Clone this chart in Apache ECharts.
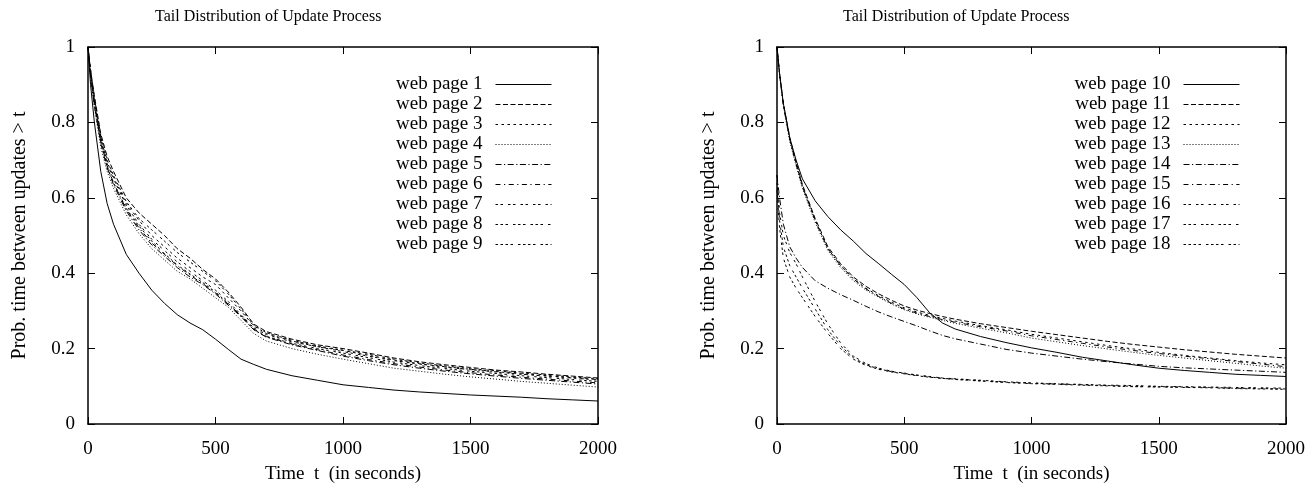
<!DOCTYPE html>
<html>
<head>
<meta charset="utf-8">
<script src="https://cdn.jsdelivr.net/npm/echarts@6/dist/echarts.min.js"></script>
<style>
html,body{margin:0;padding:0;background:#fff;}
#chart{width:1307px;height:483px;}
</style>
</head>
<body>
<div id="chart"></div>
<script>
// ---------- data ----------
const chartTitle = 'Tail Distribution of Update Process';
const xAxisName = 'Time  t  (in seconds)';
const yAxisName = 'Prob. time between updates > t';
const xTicks = [0, 500, 1000, 1500, 2000];
const yTicks = [0, 0.2, 0.4, 0.6, 0.8, 1];

const times = [0, 10, 25, 50, 75, 100, 150, 200, 250, 300, 350, 400, 450, 500, 550, 600, 650, 700, 800, 900, 1000, 1100, 1200, 1300, 1400, 1500, 1600, 1700, 1800, 1900, 2000];

// left panel
const page1 = [1, .90, .80, .67, .585, .53, .45, .40, .355, .32, .29, .268, .25, .225, .198, .172, .158, .145, .128, .116, .104, .097, .090, .085, .081, .077, .074, .071, .067, .064, .061];
const page2 = [1, .94, .87, .77, .71, .67, .60, .56, .53, .50, .465, .44, .41, .385, .35, .31, .265, .245, .225, .21, .20, .188, .175, .165, .157, .15, .143, .138, .132, .127, .122];
const page3 = [1, .93, .86, .76, .695, .655, .585, .54, .50, .47, .44, .415, .39, .37, .335, .30, .26, .24, .22, .205, .195, .182, .17, .16, .152, .145, .139, .133, .128, .123, .118];
const page4 = [1, .92, .84, .735, .67, .625, .555, .505, .465, .435, .405, .385, .36, .335, .31, .275, .24, .22, .20, .185, .172, .16, .148, .14, .132, .125, .119, .113, .108, .103, .098];
const page5 = [1, .925, .845, .745, .68, .635, .565, .515, .475, .445, .415, .39, .37, .345, .315, .285, .25, .23, .21, .195, .18, .168, .157, .148, .14, .133, .127, .121, .116, .111, .106];
const page6 = [1, .93, .85, .75, .685, .64, .57, .52, .48, .45, .42, .395, .372, .348, .318, .288, .252, .232, .212, .197, .183, .171, .16, .151, .143, .136, .13, .124, .119, .114, .109];
const page7 = [1, .935, .86, .76, .69, .65, .58, .53, .49, .46, .43, .405, .38, .355, .325, .29, .255, .237, .218, .205, .192, .18, .168, .159, .151, .144, .138, .132, .127, .122, .117];
const page8 = [1, .94, .865, .765, .70, .66, .59, .545, .515, .485, .455, .43, .405, .38, .345, .305, .262, .242, .222, .207, .196, .185, .172, .162, .154, .147, .141, .135, .13, .125, .12];
const page9 = [1, .925, .85, .75, .68, .64, .572, .525, .485, .452, .422, .398, .375, .35, .32, .287, .25, .232, .214, .20, .188, .176, .164, .155, .147, .14, .134, .128, .123, .118, .113];

// right panel
const page10 = [1, .93, .85, .76, .70, .65, .592, .55, .515, .485, .452, .425, .397, .37, .335, .295, .268, .252, .232, .216, .202, .19, .177, .167, .157, .148, .142, .137, .132, .129, .126];
const page11 = [1, .93, .85, .76, .695, .635, .545, .47, .425, .39, .365, .345, .328, .313, .302, .293, .285, .278, .266, .256, .246, .237, .228, .219, .211, .204, .197, .191, .185, .18, .175];
const page12 = [1, .93, .85, .755, .69, .63, .54, .465, .42, .385, .36, .34, .323, .308, .297, .288, .28, .273, .261, .25, .238, .228, .218, .208, .199, .19, .182, .175, .168, .162, .157];
const page13 = [1, .925, .845, .75, .685, .625, .535, .46, .415, .38, .355, .336, .318, .303, .292, .283, .275, .267, .254, .242, .228, .218, .208, .199, .19, .182, .175, .168, .161, .154, .148];
const page14 = [.66, .60, .53, .47, .44, .415, .38, .36, .343, .328, .312, .297, .284, .272, .26, .247, .235, .226, .212, .198, .188, .18, .172, .165, .159, .153, .149, .146, .143, .14, .137];
const page15 = [1, .93, .845, .755, .69, .63, .54, .465, .42, .385, .358, .338, .32, .305, .294, .285, .277, .27, .258, .247, .234, .224, .214, .204, .195, .187, .18, .173, .166, .159, .152];
const page16 = [.66, .56, .50, .455, .425, .39, .325, .265, .215, .18, .16, .148, .14, .135, .13, .126, .122, .12, .116, .112, .109, .107, .105, .103, .102, .10, .099, .098, .097, .096, .095];
const page17 = [.62, .52, .44, .39, .36, .335, .285, .24, .20, .172, .155, .145, .138, .133, .128, .124, .121, .118, .114, .11, .107, .105, .103, .101, .099, .098, .097, .096, .094, .093, .092];
const page18 = [.64, .54, .47, .42, .39, .36, .305, .25, .207, .176, .157, .146, .139, .134, .129, .125, .121, .119, .115, .111, .108, .106, .104, .102, .10, .099, .098, .097, .095, .094, .093];

const leftNames = ['web page 1','web page 2','web page 3','web page 4','web page 5','web page 6','web page 7','web page 8','web page 9'];
const rightNames = ['web page 10','web page 11','web page 12','web page 13','web page 14','web page 15','web page 16','web page 17','web page 18'];
const leftValues = [page1, page2, page3, page4, page5, page6, page7, page8, page9];
const rightValues = [page10, page11, page12, page13, page14, page15, page16, page17, page18];

// gnuplot-like line types
const dashTypes = [
  'solid',
  [5, 2.5],
  [2.5, 3.5],
  [1, 2],
  [6, 2.5, 1.2, 2.5],
  [5, 3.5, 1.2, 3.5],
  [2.5, 2.5, 2.5, 5],
  [2.5, 2.5, 2.5, 2.5, 2.5, 5],
  [2.5, 2.5, 2.5, 2.5, 2.5, 2.5, 2.5, 5]
];

// ---------- chart ----------
const FONT = 'Liberation Serif';
const chart = echarts.init(document.getElementById('chart'), null, {renderer: 'canvas'});

const grids = [
  {left: 88, top: 47, width: 510, height: 377, outerBoundsMode: 'none', containLabel: false},
  {left: 777, top: 47, width: 509, height: 377, outerBoundsMode: 'none', containLabel: false}
];

const plain = function (v) { return String(v); };

const xAxes = [], yAxes = [];
[0, 1].forEach(function (g) {
  xAxes.push({
    type: 'value', gridIndex: g, position: 'bottom', min: 0, max: 2000, interval: 500,
    name: xAxisName, nameLocation: 'middle', nameGap: 41,
    nameTextStyle: {fontFamily: FONT, fontSize: 19, color: '#000'},
    axisLine: {show: true, onZero: false, lineStyle: {color: '#000', width: 1.5}},
    axisTick: {show: true, inside: true, length: 7, lineStyle: {color: '#000', width: 1}},
    axisLabel: {show: true, margin: 16, fontFamily: FONT, fontSize: 19, color: '#000', formatter: plain},
    splitLine: {show: false}
  });
  xAxes.push({
    type: 'value', gridIndex: g, position: 'top', min: 0, max: 2000, interval: 500,
    axisLine: {show: true, onZero: false, lineStyle: {color: '#000', width: 1.5}},
    axisTick: {show: true, inside: true, length: 7, lineStyle: {color: '#000', width: 1}},
    axisLabel: {show: false}, splitLine: {show: false}
  });
  yAxes.push({
    type: 'value', gridIndex: g, position: 'left', min: 0, max: 1, interval: 0.2,
    name: yAxisName, nameLocation: 'middle', nameGap: 58,
    nameTextStyle: {fontFamily: FONT, fontSize: 20, color: '#000'},
    axisLine: {show: true, onZero: false, lineStyle: {color: '#000', width: 1.5}},
    axisTick: {show: true, inside: true, length: 7, lineStyle: {color: '#000', width: 1}},
    axisLabel: {show: true, margin: 13, fontFamily: FONT, fontSize: 19, color: '#000', formatter: plain},
    splitLine: {show: false}
  });
  yAxes.push({
    type: 'value', gridIndex: g, position: 'right', min: 0, max: 1, interval: 0.2,
    axisLine: {show: true, onZero: false, lineStyle: {color: '#000', width: 1.5}},
    axisTick: {show: true, inside: true, length: 7, lineStyle: {color: '#000', width: 1}},
    axisLabel: {show: false}, splitLine: {show: false}
  });
});

const series = [];
function addSeries(names, values, g) {
  names.forEach(function (name, i) {
    series.push({
      name: name, type: 'line', xAxisIndex: g * 2, yAxisIndex: g * 2,
      data: times.map(function (t, k) { return [t, values[i][k]]; }),
      showSymbol: false, symbol: 'none', smooth: false, animation: false,
      lineStyle: {color: '#000', width: 1, type: dashTypes[i]},
      itemStyle: {color: '#000'}
    });
  });
}
addSeries(leftNames, leftValues, 0);
addSeries(rightNames, rightValues, 1);

function legendFor(names, right) {
  return {
    data: names, orient: 'vertical', align: 'right', right: right, top: 75,
    itemWidth: 56, itemHeight: 19, itemGap: 1,
    itemStyle: {opacity: 0},
    lineStyle: {width: 1, color: '#000'},
    textStyle: {fontFamily: FONT, fontSize: 19, lineHeight: 19, color: '#000', padding: [0, 8, 0, 0]},
    selectedMode: false, padding: 0
  };
}

chart.setOption({
  backgroundColor: '#fff',
  animation: false,
  title: [
    {text: chartTitle, left: 150, top: 4, textStyle: {fontFamily: FONT, fontSize: 16, fontWeight: 'normal', color: '#000'}},
    {text: chartTitle, left: 838, top: 4, textStyle: {fontFamily: FONT, fontSize: 16, fontWeight: 'normal', color: '#000'}}
  ],
  legend: [legendFor(leftNames, 755), legendFor(rightNames, 67)],
  grid: grids,
  xAxis: xAxes,
  yAxis: yAxes,
  series: series
});
</script>
</body>
</html>
